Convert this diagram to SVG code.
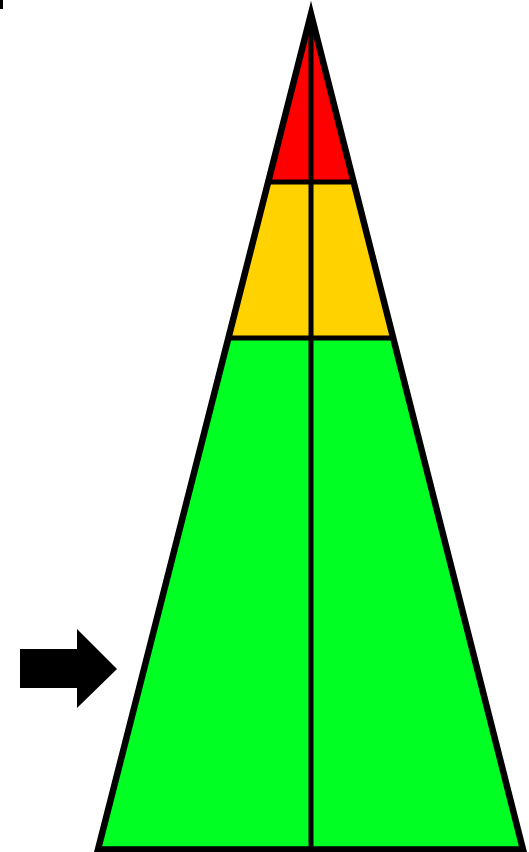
<svg xmlns="http://www.w3.org/2000/svg" width="529" height="852" viewBox="0 0 529 852">
<style>
.ln{stroke:#000;fill:none;stroke-linejoin:miter;stroke-miterlimit:10}
</style>
<rect width="529" height="852" fill="#fff"/>
<rect x="0" y="0" width="3" height="9" fill="#000"/>
<g id="red-tier"><polygon points="311,14 268.4,182 353.6,182" fill="#FF0000"/></g>
<g id="yellow-tier"><polygon points="268.4,182 353.6,182 393.2,338 228.8,338" fill="#FFD200"/></g>
<g id="green-tier"><polygon points="228.8,338 393.2,338 523,849.5 98,849.5" fill="#00FF22"/></g>
<g id="lines">
<line class="ln" x1="268.4" y1="182" x2="353.6" y2="182" stroke-width="5"/>
<line class="ln" x1="228.8" y1="338" x2="393.2" y2="338" stroke-width="5"/>
<line class="ln" x1="311" y1="14" x2="311" y2="849.5" stroke-width="5"/>
<polygon class="ln" points="311,14 523,849.5 98,849.5" stroke-width="6.5"/>
</g>
<g id="arrow"><polygon points="20,649 77,649 77,629 117,669 77,708 77,688 20,688" fill="#000"/></g>
</svg>
